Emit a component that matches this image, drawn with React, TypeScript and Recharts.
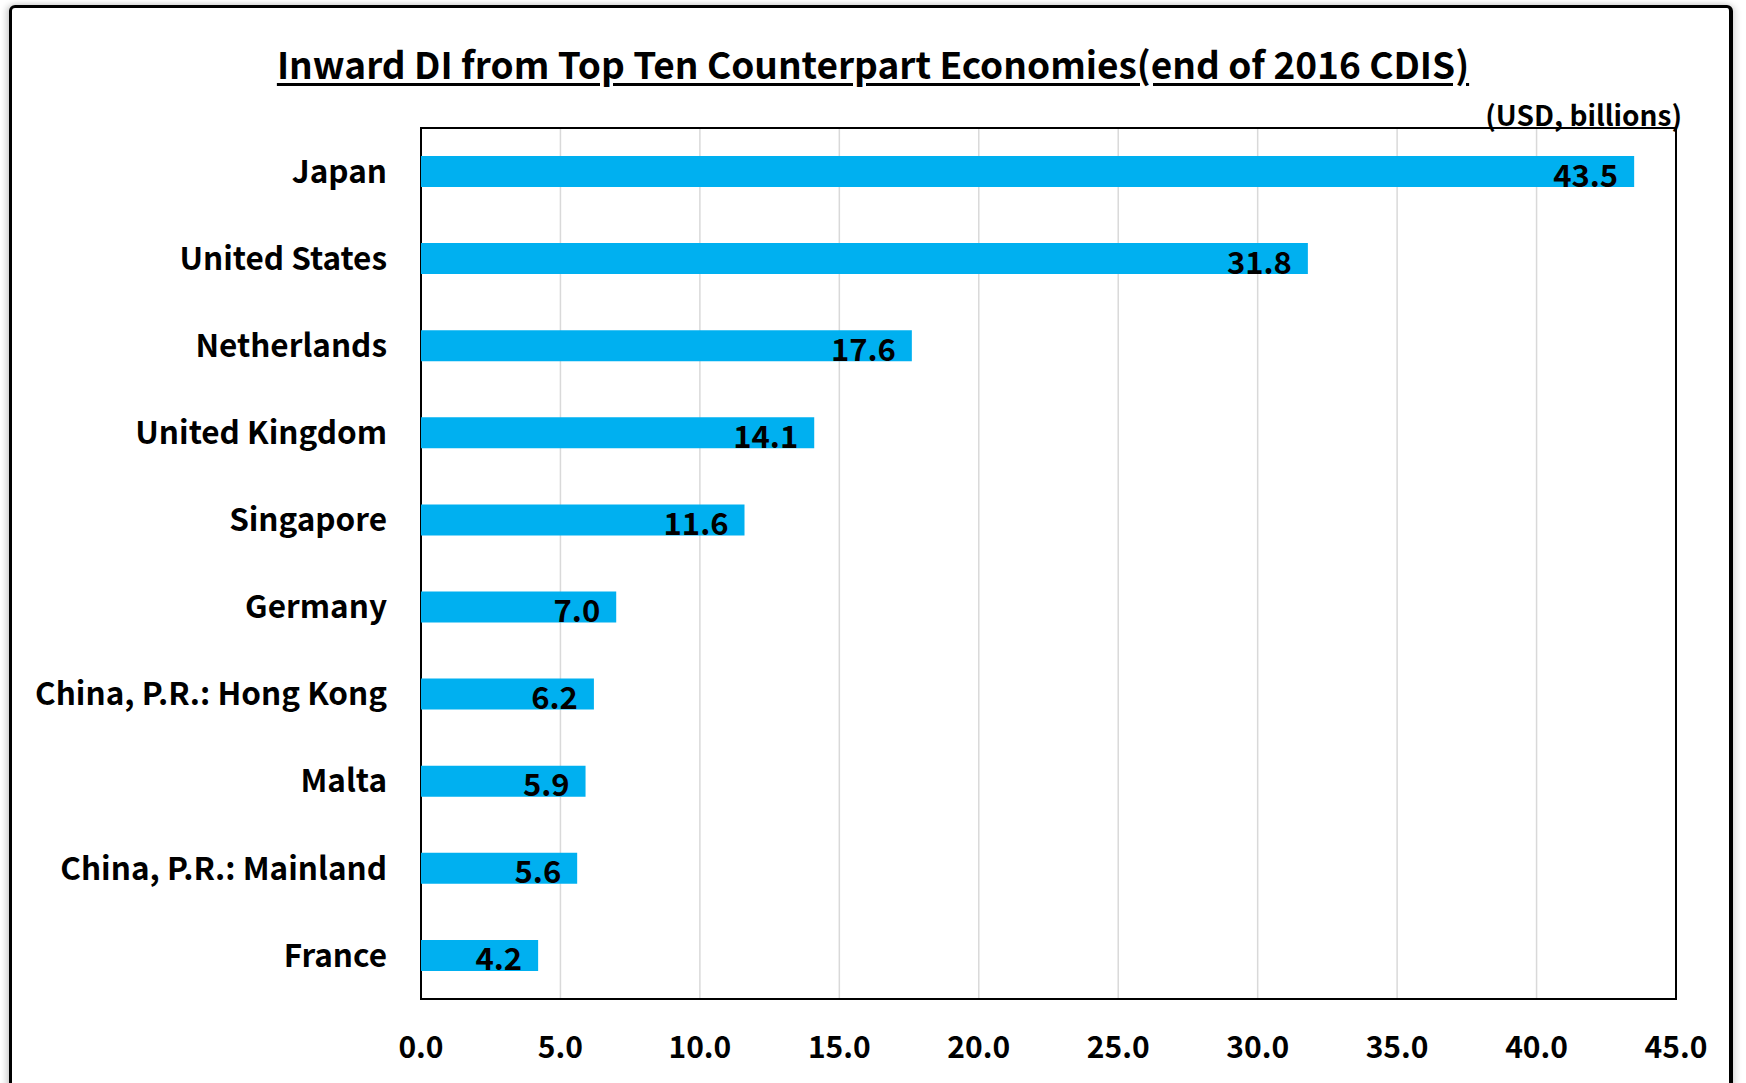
import React from "react";
import {
  BarChart,
  Bar,
  XAxis,
  YAxis,
  CartesianGrid,
  ReferenceArea,
  LabelList,
} from "recharts";

const countries = [
  "Japan",
  "United States",
  "Netherlands",
  "United Kingdom",
  "Singapore",
  "Germany",
  "China, P.R.: Hong Kong",
  "Malta",
  "China, P.R.: Mainland",
  "France",
];
const inwardDI = [43.5, 31.8, 17.6, 14.1, 11.6, 7.0, 6.2, 5.9, 5.6, 4.2];
const xTicks = [0, 5, 10, 15, 20, 25, 30, 35, 40, 45];

const data = countries.map((name, i) => ({ name, value: inwardDI[i] }));

const FONT = '"Noto Sans CJK KR", "Noto Sans", sans-serif';

export default function App() {
  return (
    <div
      style={{
        position: "absolute",
        left: 0,
        top: 0,
        width: 1746,
        height: 1083,
        background: "#fff",
        overflow: "hidden",
        fontFamily: FONT,
      }}
    >
      {/* outer frame */}
      <div
        style={{
          position: "absolute",
          left: 9,
          top: 5,
          width: 1724,
          height: 1100,
          border: "3px solid #000",
          borderRightWidth: 4,
          borderRadius: 6,
          boxShadow: "-3px 0 6px rgba(0,0,0,0.18), 3px 0 6px rgba(0,0,0,0.12)",
          boxSizing: "border-box",
        }}
      />
      <div
        style={{
          position: "absolute",
          left: 0,
          width: 1746,
          top: 35,
          textAlign: "center",
          fontSize: 37,
          fontWeight: 700,
          lineHeight: "56px",
          textDecoration: "underline",
          textUnderlineOffset: 4,
          color: "#000",
        }}
      >
        Inward DI from Top Ten Counterpart Economies(end of 2016 CDIS)
      </div>
      <div
        style={{
          position: "absolute",
          right: 1746 - 1682,
          top: 95,
          fontSize: 28,
          fontWeight: 700,
          lineHeight: "38px",
          color: "#000",
        }}
      >
        (USD, billions)
      </div>
      <div style={{ position: "absolute", left: 0, top: 0 }}>
        <BarChart
          width={1746}
          height={1083}
          data={data}
          layout="vertical"
          margin={{ top: 128, right: 70, bottom: 0, left: 0 }}
          barSize={31}
        >
          <CartesianGrid
            horizontal={false}
            vertical={true}
            stroke="#d9d9d9"
            strokeWidth={1.5}
          />
          <XAxis
            type="number"
            domain={[0, 45]}
            ticks={xTicks}
            interval={0}
            height={84}
            axisLine={false}
            tickLine={false}
            tickSize={0}
            tickMargin={38}
            tickFormatter={(v: number) => v.toFixed(1)}
            tick={{ fill: "#000", fontSize: 30, fontWeight: 700, fontFamily: FONT }}
          />
          <YAxis
            type="category"
            dataKey="name"
            width={421}
            axisLine={false}
            tickLine={false}
            tickSize={0}
            tickMargin={34}
            interval={0}
            tick={{ fill: "#000", fontSize: 31.5, fontWeight: 700, fontFamily: FONT }}
          />
          <Bar dataKey="value" fill="#00B0F0" isAnimationActive={false}>
            <LabelList
              dataKey="value"
              position="insideRight"
              offset={16}
              dy={4}
              formatter={(v: number) => v.toFixed(1)}
              fill="#000"
              fontSize={31}
              fontWeight={700}
              fontFamily={FONT}
            />
          </Bar>
          <ReferenceArea
            x1={0}
            x2={45}
            fill="none"
            fillOpacity={0}
            stroke="#000"
            strokeWidth={2}
            ifOverflow="visible"
          />
        </BarChart>
      </div>
    </div>
  );
}
